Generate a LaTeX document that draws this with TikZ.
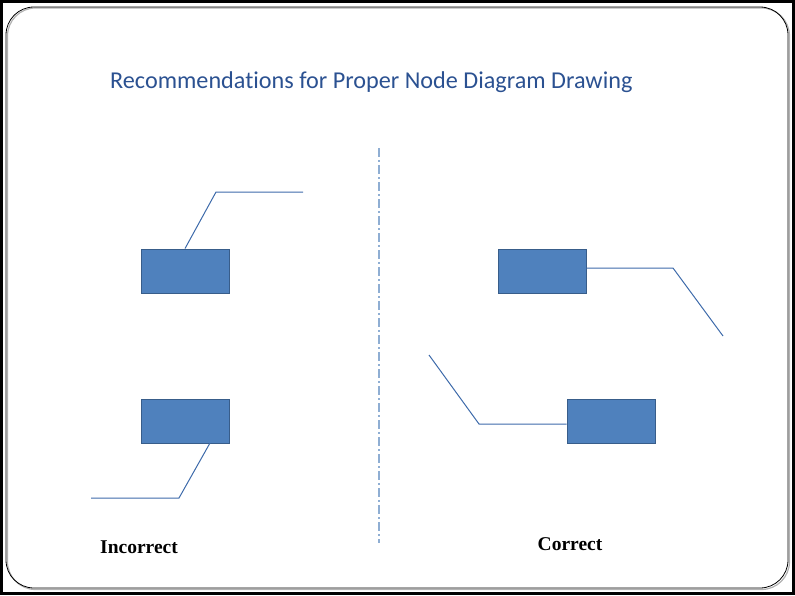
\documentclass[tikz,border=0pt]{standalone}
\usepackage{fontspec}
\setmainfont{Liberation Serif}
\newfontfamily\titlefont[Ligatures=CommonOff]{Carlito}
\begin{document}
\begin{tikzpicture}[x=1pt,y=-1pt,
  box/.style={draw=boxedge,fill=boxfill,line width=0.9pt,minimum width=88pt,minimum height=44pt,inner sep=0pt},
  wire/.style={draw=wireblue,line width=1pt},
  caption/.style={font=\bfseries\fontsize{19.5}{23}\selectfont,text=black}]
\definecolor{boxfill}{HTML}{4F81BD}
\definecolor{boxedge}{HTML}{385D8A}
\definecolor{wireblue}{HTML}{3D6AAA}
\definecolor{titleblue}{HTML}{2B5191}
\definecolor{divider}{HTML}{8FAED3}
\useasboundingbox (0,0) rectangle (795,595);
% outer frame
\draw[line width=3pt] (1.5,1.5) rectangle (793.5,593.5);
% slide panel with soft shadow
\draw[gray!60,line width=1.2pt,rounded corners=28pt] (7.5,8) rectangle (789.5,589.5);
\draw[black,line width=0.8pt,rounded corners=28pt] (6,7) rectangle (788,588);
% title
\node[font=\titlefont\fontsize{24.2}{29}\selectfont,text=titleblue,anchor=base west,inner sep=0pt] (title) at (110,88.5) {Recommendations for Proper Node Diagram Drawing};
% divider
\coordinate (dtop) at (379,148);
\coordinate (dbot) at (379,543);
\draw[divider,line width=1.2pt,dash pattern=on 9pt off 3pt on 2pt off 3pt] (dtop) -- (dbot);
% incorrect examples
\node[box] (b1) at (185,271) {};
\coordinate (b1bend) at (216,192);
\coordinate (b1end) at (303,192);
\draw[wire] (b1.north) -- (b1bend) -- (b1end);
\node[box] (b2) at (185,421) {};
\coordinate (b2start) at (210,443);
\coordinate (b2bend) at (179,498);
\coordinate (b2end) at (91,498);
\draw[wire] (b2start) -- (b2bend) -- (b2end);
% correct examples
\node[box] (b3) at (542,271) {};
\coordinate (b3bend) at (673,268);
\coordinate (b3end) at (723,336);
\draw[wire] (b3.east |- b3bend) -- (b3bend) -- (b3end);
\node[box] (b4) at (611,421) {};
\coordinate (b4bend) at (479,424);
\coordinate (b4end) at (429,355);
\draw[wire] (b4.west |- b4bend) -- (b4bend) -- (b4end);
% captions
\node[caption] (lbad) at (139,547) {Incorrect};
\node[caption] (lgood) at (570,544) {Correct};
\end{tikzpicture}
\end{document}
